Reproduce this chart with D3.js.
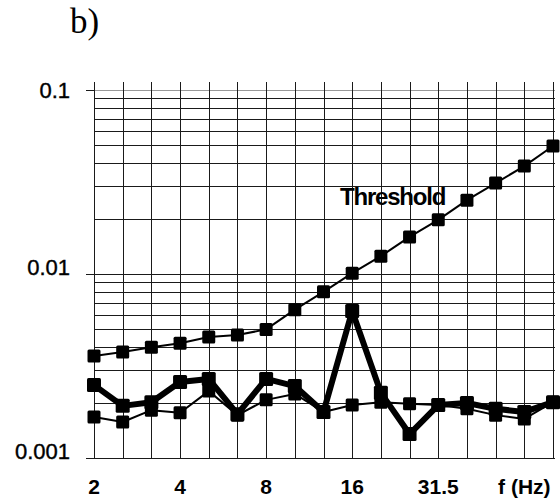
<!DOCTYPE html>
<html><head><meta charset="utf-8">
<script src="https://cdn.jsdelivr.net/npm/d3@7"></script>
<style>body{margin:0;background:#fff}svg{display:block}</style>
</head><body>
<svg id="c" width="560" height="500"></svg>
<script>
const freqs = ["2","2.5","3.15","4","5","6.3","8","10","12.5","16","20","25","31.5","40","50","63","80"];
const xLabels = ["2","4","8","16","31.5","f (Hz)"];
const xLabelAt = ["2","4","8","16","31.5","63"];
const threshold = [0.00358,0.00377,0.0040,0.0042,0.00455,0.00466,0.0050,0.0064,0.0080,0.0101,0.0125,0.0159,0.0197,0.0252,0.0312,0.0386,0.0496];
const seriesThick = [0.00249,0.00192,0.00201,0.00259,0.00269,0.00173,0.00269,0.00246,0.00178,0.00629,0.00226,0.00135,0.00194,0.00199,0.00185,0.00178,0.00201];
const seriesThin = [0.00167,0.00157,0.00182,0.00176,0.00231,0.00171,0.00207,0.00223,0.00178,0.00194,0.00201,0.00197,0.00194,0.00185,0.00171,0.00163,0.00201];
const yTicks = [0.001,0.01,0.1];
const yTickLabels = ["0.001","0.01","0.1"];

const svg = d3.select("#c");
const x = d3.scalePoint().domain(freqs).range([94,553]);
const y = d3.scaleLog().domain([0.001,0.1]).range([458,90]);

// horizontal grid (log minor + major)
const gridVals = [];
for (const dec of [0.001,0.01]) for (let k=1;k<=9;k++) gridVals.push(dec*k);
gridVals.push(0.1);
svg.append("g").selectAll("line").data(gridVals).join("line")
  .attr("x1",94).attr("x2",555)
  .attr("y1",d=>Math.round(y(d))+0.5).attr("y2",d=>Math.round(y(d))+0.5)
  .attr("stroke",d=>d===0.1?"#999":"#1a1a1a").attr("stroke-width",1);

// vertical grid
svg.append("g").selectAll("line").data(freqs).join("line")
  .attr("x1",d=>Math.round(x(d))+0.5).attr("x2",d=>Math.round(x(d))+0.5)
  .attr("y1",82).attr("y2",458)
  .attr("stroke","#1a1a1a").attr("stroke-width",1);

// y axis
const yAxis = svg.append("g").attr("transform","translate(94,0)")
  .call(d3.axisLeft(y).tickValues(yTicks).tickSize(8).tickPadding(16)
    .tickFormat((d,i)=>yTickLabels[i]));
yAxis.select(".domain").remove();
yAxis.selectAll(".tick line").attr("stroke","#1a1a1a");
yAxis.selectAll(".tick text").attr("font-family","Liberation Sans, Arial, sans-serif")
  .attr("font-size",22).attr("fill","#000").attr("stroke","#000").attr("stroke-width",0.4)
  .attr("dy",d=>d===0.1?"0.35em":"0em");

// x labels
svg.append("g").selectAll("text").data(xLabels).join("text")
  .attr("x",(d,i)=>x(xLabelAt[i])).attr("y",494)
  .attr("text-anchor","middle")
  .attr("font-family","Liberation Sans, Arial, sans-serif")
  .attr("font-weight","bold").attr("font-size",21).text(d=>d);

const line = d3.line().x((d,i)=>x(freqs[i])).y(d=>y(d));
function drawSeries(vals, lw, ms){
  svg.append("path").datum(vals).attr("d",line).attr("fill","none")
    .attr("stroke","#000").attr("stroke-width",lw).attr("stroke-linejoin","round");
  svg.append("g").selectAll("rect").data(vals).join("rect")
    .attr("x",(d,i)=>x(freqs[i])-ms/2).attr("y",d=>y(d)-ms/2)
    .attr("width",ms).attr("height",ms).attr("rx",1.5).attr("fill","#000");
}
drawSeries(threshold,2,13);
drawSeries(seriesThin,2,13);
drawSeries(seriesThick,6,14);

svg.append("text").attr("x",340).attr("y",205)
  .attr("font-family","Liberation Sans, Arial, sans-serif")
  .attr("font-weight","bold").attr("font-size",24).attr("letter-spacing",-1.2)
  .text("Threshold");

svg.append("text").attr("x",70).attr("y",33)
  .attr("font-family","Liberation Serif, Times New Roman, serif")
  .attr("font-size",35).text("b)");
</script>
</body></html>
